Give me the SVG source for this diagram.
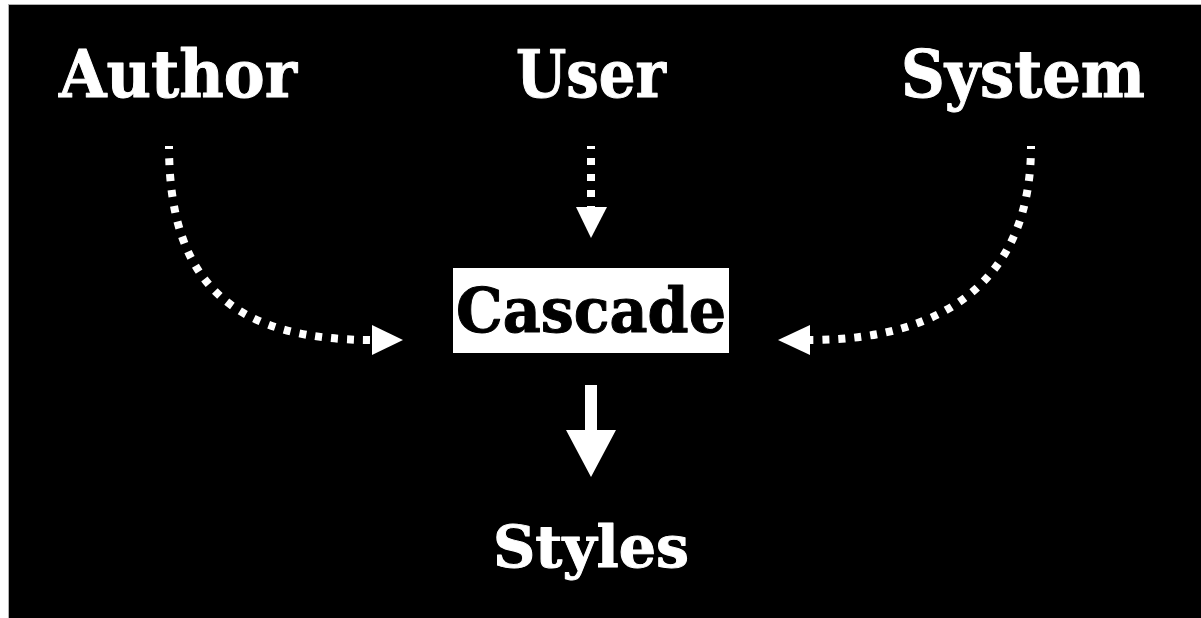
<svg xmlns="http://www.w3.org/2000/svg" width="1201" height="618" viewBox="0 0 1201 618">
  <style>
    .label { font-family: "DejaVu Serif", "Liberation Serif", serif; font-weight: bold; fill: #ffffff; stroke: #ffffff; stroke-width: 1; stroke-linejoin: round; text-anchor: middle; }
    .dark { fill: #000000; stroke: #000000; }
    .dotted { fill: none; stroke: #ffffff; stroke-width: 8; stroke-dasharray: 7 9; stroke-dashoffset: 4; }
    .head { fill: #ffffff; }
  </style>

  <!-- page and slide frame -->
  <rect x="0" y="0" width="1201" height="618" fill="#ffffff"/>
  <rect x="8" y="4" width="1193" height="614" fill="#b0b0b0"/>
  <rect x="9" y="5" width="1192" height="613" fill="#000000"/>

  <g id="author">
    <text class="label" x="178" y="97" font-size="65" textLength="238" lengthAdjust="spacingAndGlyphs">Author</text>
  </g>
  <g id="user">
    <text class="label" x="591" y="97" font-size="65" textLength="150" lengthAdjust="spacingAndGlyphs">User</text>
  </g>
  <g id="system">
    <text class="label" x="1023" y="97" font-size="65" textLength="244" lengthAdjust="spacingAndGlyphs">System</text>
  </g>
  <g id="cascade">
    <rect x="453" y="268" width="276" height="85" fill="#ffffff"/>
    <text class="label dark" x="591" y="332" font-size="62" textLength="270" lengthAdjust="spacingAndGlyphs">Cascade</text>
  </g>
  <g id="styles">
    <text class="label" x="591" y="567" font-size="57" textLength="196" lengthAdjust="spacingAndGlyphs">Styles</text>
  </g>

  <g id="connectors">
    <!-- Author to Cascade -->
    <path class="dotted" d="M169 146 C169 290 240 340 373 340"/>
    <polygon class="head" points="372,325 403,340 372,355"/>
    <!-- User to Cascade -->
    <path class="dotted" d="M591 146 L591 207"/>
    <polygon class="head" points="576,207 607,207 591,238"/>
    <!-- System to Cascade -->
    <path class="dotted" d="M1031 146 C1031 275 950 340 810 340"/>
    <polygon class="head" points="810,325 778,340 810,355"/>
    <!-- Cascade to Styles -->
    <rect x="585" y="385" width="12" height="46" fill="#ffffff"/>
    <polygon class="head" points="566,430 616,430 591,477"/>
  </g>
</svg>
